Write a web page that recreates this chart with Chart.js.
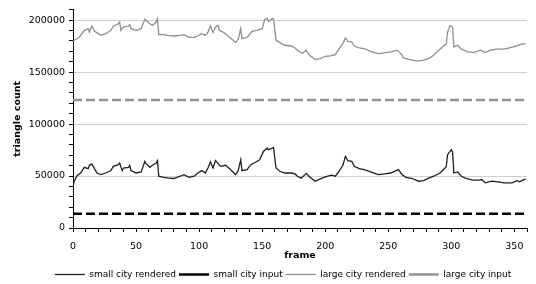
<!DOCTYPE html>
<html>
<head>
<meta charset="utf-8">
<script src="https://cdn.jsdelivr.net/npm/chart.js@4/dist/chart.umd.min.js"></script>
<style>
  html, body { margin: 0; padding: 0; background: #fff; }
  #wrap { width: 536px; height: 284px; }
</style>
</head>
<body>
<div id="wrap"><canvas id="c" width="536" height="284"></canvas></div>
<script>
// ---- data ----
const largeFrames = [0,5,9,12,13,15,17,19,22,26,30,32,36,37,38,40,44,45,46,50,54,57,58,61,63,66,67,68,72,75,80,85,88,92,96,99,102,105,107,109,111,113,115,116,119,121,124,127,129,131,133,134,137,139,142,146,150,152,154,155,158,159,161,164,168,173,176,179,182,185,187,192,196,200,204,208,212,214,216,218,221,223,227,231,236,242,247,252,257,260,262,267,273,278,282,286,289,293,296,297,299,301,302,305,308,313,318,323,327,331,336,341,346,352,354,359];
const largeRendered = [180000,183400,190100,191700,188500,194300,189200,187900,185300,186900,190100,194300,196500,198100,190100,193300,194300,195500,191700,190100,191700,200700,199700,196500,194900,198100,201300,186000,186000,185300,184700,185300,186000,183400,183400,184700,186900,185300,188500,194300,187900,193300,194900,190100,188500,186900,183400,180500,178300,181500,191700,182100,182800,184700,189200,190100,191700,200700,201900,198700,201300,201300,180500,178300,175800,175100,173200,170000,167800,171000,166800,162000,163000,165200,165600,166800,174200,177400,182800,179600,179000,174800,173200,172600,170000,167800,168400,169400,171000,167800,163600,162000,160500,161400,163000,166200,170000,174200,177400,188500,194900,193300,174200,175800,172000,169400,168700,171000,168700,171000,172000,172000,173200,175100,176400,177400];

const smallFrames = [0,1,3,6,9,12,13,15,17,19,22,26,30,32,36,37,39,40,44,45,46,50,54,57,58,61,63,66,67,68,72,75,80,85,88,92,96,99,102,105,107,109,111,113,117,121,125,129,131,133,134,138,141,145,148,151,154,155,158,159,161,164,168,173,176,178,181,185,187,192,198,202,205,208,211,214,216,218,221,223,227,231,236,242,247,252,258,261,264,269,274,278,282,286,291,295,296,297,300,301,302,305,308,311,317,322,324,327,332,337,342,348,352,354,357,359];
const smallRendered = [40000,45000,50000,52900,58400,57100,60300,61600,57100,52900,51300,52900,55200,59300,60900,62500,55200,57700,58400,60300,55200,52900,53900,64100,61600,58400,60300,62500,64700,49800,48800,48200,47600,49800,51300,48800,49800,52900,55200,52900,57700,63500,57700,65000,59300,60300,56100,51300,55200,65700,55200,56100,60900,63500,65700,73700,76900,75300,76900,77500,57700,54600,52900,52900,52000,49800,48000,52600,49800,45000,48200,49800,50800,49800,54600,60300,68900,64700,64100,59300,57100,56200,53900,51300,52000,52900,56200,51300,48800,47600,45000,45600,48000,49800,52900,57700,59300,70500,75300,73000,52900,53900,49800,48000,46000,46000,46600,43400,45000,44400,43400,43400,45600,44400,46200,47000];

const inputFrames = [0, 359];
const smallInput = [13600, 13600];
const largeInput = [123200, 123200];

const seriesNames = ['small city rendered', 'small city input', 'large city rendered', 'large city input'];
const xTitle = 'frame';
const yTitle = 'triangle count';

// ---- build ----
const pts = (xs, ys) => xs.map((x, i) => ({ x: x, y: ys[i] }));

Chart.defaults.font.family = "'DejaVu Sans', Verdana, sans-serif";
Chart.defaults.font.size = 9;
Chart.defaults.color = '#000';

// nudge the legend block slightly right and down, as in the reference
const legendShift = {
  id: 'legendShift',
  afterLayout(chart) {
    const lg = chart.legend;
    if (lg) { lg.left += 15; lg.right += 15; lg.top += 5; lg.bottom += 5; }
  }
};

new Chart(document.getElementById('c'), {
  type: 'line',
  data: {
    datasets: [
      { label: seriesNames[0], data: pts(smallFrames, smallRendered), borderColor: '#1e1e1e', borderWidth: 1.3 },
      { label: seriesNames[1], data: pts(inputFrames, smallInput), borderColor: '#000000', borderWidth: 2.5, borderDash: [9, 4] },
      { label: seriesNames[2], data: pts(largeFrames, largeRendered), borderColor: '#8e8e8e', borderWidth: 1.3 },
      { label: seriesNames[3], data: pts(inputFrames, largeInput), borderColor: '#939393', borderWidth: 2.5, borderDash: [9, 4] }
    ]
  },
  plugins: [legendShift],
  options: {
    responsive: false,
    animation: false,
    devicePixelRatio: 1,
    layout: { padding: { top: 8, right: 0, left: 0, bottom: 0 } },
    elements: { point: { radius: 0 }, line: { tension: 0 } },
    plugins: {
      tooltip: { enabled: false },
      legend: {
        position: 'bottom',
        labels: {
          usePointStyle: true,
          pointStyle: 'line',
          pointStyleWidth: 30,
          boxHeight: 9,
          padding: 3,
          font: { size: 9 }
        }
      }
    },
    scales: {
      x: {
        type: 'linear',
        min: 0, max: 360,
        afterFit: (s) => { s.height = 34; },
        border: { color: '#000', width: 1 },
        grid: { drawOnChartArea: false, tickLength: 4, tickColor: '#000' },
        ticks: {
          stepSize: 10, autoSkip: false, maxRotation: 0, padding: 9,
          font: { size: 9.5 },
          callback: (v) => (v % 50 === 0 ? String(v) : '')
        },
        title: { display: true, text: xTitle, font: { size: 9.5, weight: 'bold' }, padding: { top: 0, bottom: 1 } }
      },
      y: {
        min: 0, max: 210000,
        afterFit: (s) => { s.width = 73; },
        border: { color: '#000', width: 1 },
        grid: {
          tickLength: 4,
          tickColor: '#000',
          color: (ctx) => (ctx.tick && ctx.tick.value % 50000 === 0 && ctx.tick.value > 0 ? '#cfcfcf' : 'rgba(0,0,0,0)')
        },
        ticks: {
          stepSize: 10000, autoSkip: false, padding: 4,
          font: { size: 9.5 },
          callback: (v) => (v % 50000 === 0 ? String(v) : '')
        },
        title: { display: true, text: yTitle, font: { size: 9.5, weight: 'bold' }, padding: { top: 12, bottom: 0 } }
      }
    }
  }
});
</script>
</body>
</html>
